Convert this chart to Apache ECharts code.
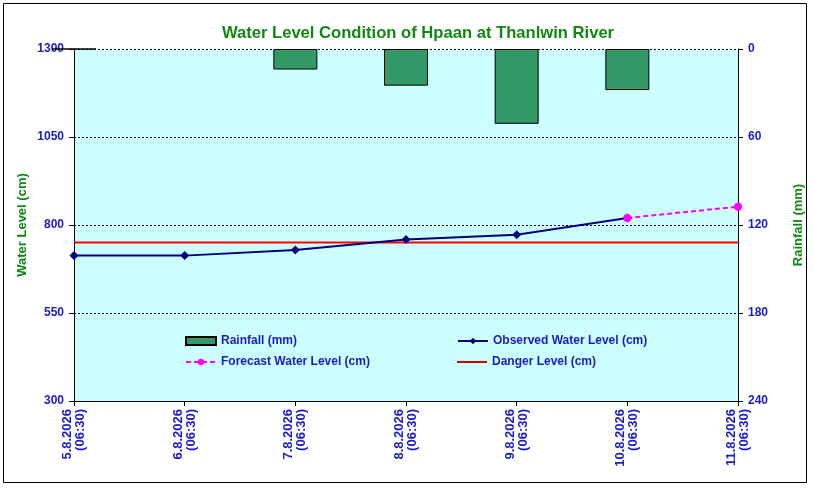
<!DOCTYPE html>
<html>
<head>
<meta charset="utf-8">
<script src="https://cdn.jsdelivr.net/npm/echarts@6/dist/echarts.min.js"></script>
<style>
  html, body { margin: 0; padding: 0; background: #fff; }
  #chart { width: 814px; height: 489px; }
</style>
</head>
<body>
<div id="chart"></div>
<script>
// data
var categories = ['5.8.2026\n(06:30)', '6.8.2026\n(06:30)', '7.8.2026\n(06:30)', '8.8.2026\n(06:30)',
                  '9.8.2026\n(06:30)', '10.8.2026\n(06:30)', '11.8.2026\n(06:30)'];
var rainfall = [0, null, 14, 25, 51, 28, null];
var observed = [713, 713, 729, 759, 772, 820, null];
var forecast = [null, null, null, null, null, 820, 852];
var danger = [750, 750, 750, 750, 750, 750, 750];
var levelTicks = [300, 1300, 250];
var rainTicks = [0, 240, 60];

var myChart = echarts.init(document.getElementById('chart'));

var blue = '#1a1acc';
var green = '#118811';
var font = 'Arial, Liberation Sans, sans-serif';

function legendAt(name, left, top, icon, h) {
    return {
        data: [{ name: name, icon: icon }],
        left: left,
        top: top,
        itemWidth: 30,
        itemHeight: h || 8,
        itemGap: 4,
        textStyle: { color: blue, fontWeight: 'bold', fontSize: 12, fontFamily: font },
        selectedMode: false
    };
}

var option = {
    backgroundColor: '#fff',
    animation: false,
    title: {
        text: 'Water Level Condition of Hpaan at Thanlwin River',
        left: 413,
        top: 20,
        textAlign: 'center',
        textStyle: { color: green, fontSize: 16.6, fontWeight: 'bold', fontFamily: font }
    },
    graphic: [{
        type: 'rect',
        shape: { x: 3.5, y: 3.5, width: 803, height: 479 },
        style: { fill: 'none', stroke: '#000', lineWidth: 1 },
        z: 100
    }],
    legend: [
        legendAt('Rainfall (mm)', 180, 330, 'rect'),
        legendAt('Observed Water Level (cm)', 452, 330),
        legendAt('Forecast Water Level (cm)', 180, 351),
        legendAt('Danger Level (cm)', 452, 351, 'rect', 2)
    ],
    grid: {
        left: 74, right: 76, top: 49, bottom: 88,
        outerBoundsMode: 'none',
        show: true,
        backgroundColor: '#ccffff',
        borderWidth: 0
    },
    xAxis: {
        type: 'category',
        data: categories,
        boundaryGap: false,
        z: 5,
        axisLine: { onZero: false, lineStyle: { color: '#000', width: 1 } },
        axisTick: { show: true, length: 5, lineStyle: { color: '#000' } },
        axisLabel: {
            rotate: 90,
            color: blue,
            fontWeight: 'bold',
            fontSize: 13,
            lineHeight: 13,
            margin: 8,
            interval: 0,
            fontFamily: font
        }
    },
    yAxis: [{
        type: 'value',
        min: levelTicks[0], max: levelTicks[1], interval: levelTicks[2],
        name: 'Water Level (cm)',
        nameLocation: 'middle',
        nameGap: 45,
        nameMoveOverlap: false,
        nameTextStyle: { color: green, fontWeight: 'bold', fontSize: 13, fontFamily: font },
        axisLine: { show: true, lineStyle: { color: '#000' } },
        axisTick: { show: true, length: 5, lineStyle: { color: '#000' } },
        axisLabel: { color: blue, fontWeight: 'bold', fontSize: 12, margin: 10, fontFamily: font,
                     formatter: function (v) { return String(v); } },
        splitLine: { show: true, lineStyle: { color: '#000', type: [2, 2], width: 1 } }
    }, {
        type: 'value',
        inverse: true,
        min: rainTicks[0], max: rainTicks[1], interval: rainTicks[2],
        name: 'Rainfall (mm)',
        nameLocation: 'middle',
        nameGap: 54,
        nameMoveOverlap: false,
        nameRotate: 90,
        nameTextStyle: { color: green, fontWeight: 'bold', fontSize: 13, fontFamily: font },
        axisLine: { show: true, lineStyle: { color: '#000' } },
        axisTick: { show: true, length: 5, lineStyle: { color: '#000' } },
        axisLabel: { color: blue, fontWeight: 'bold', fontSize: 12, margin: 10, fontFamily: font,
                     formatter: function (v) { return String(v); } },
        splitLine: { show: false }
    }],
    series: [{
        name: 'Rainfall (mm)',
        type: 'bar',
        yAxisIndex: 1,
        barWidth: 44,
        clip: true,
        data: rainfall,
        itemStyle: { color: '#339966', borderColor: '#000', borderWidth: 1 }
    }, {
        name: 'Danger Level (cm)',
        type: 'line',
        data: danger,
        symbol: 'none',
        lineStyle: { color: '#ff0000', width: 2 },
        itemStyle: { color: '#cc0000' }
    }, {
        name: 'Observed Water Level (cm)',
        type: 'line',
        data: observed,
        symbol: 'diamond',
        symbolSize: 9,
        clip: false,
        lineStyle: { color: '#000080', width: 2 },
        itemStyle: { color: '#000080' }
    }, {
        name: 'Forecast Water Level (cm)',
        type: 'line',
        data: forecast,
        symbol: 'circle',
        symbolSize: 8,
        clip: false,
        lineStyle: { color: '#ff00ff', width: 2, type: [5, 3] },
        itemStyle: { color: '#ff00ff' }
    }]
};

myChart.setOption(option);
</script>
</body>
</html>
